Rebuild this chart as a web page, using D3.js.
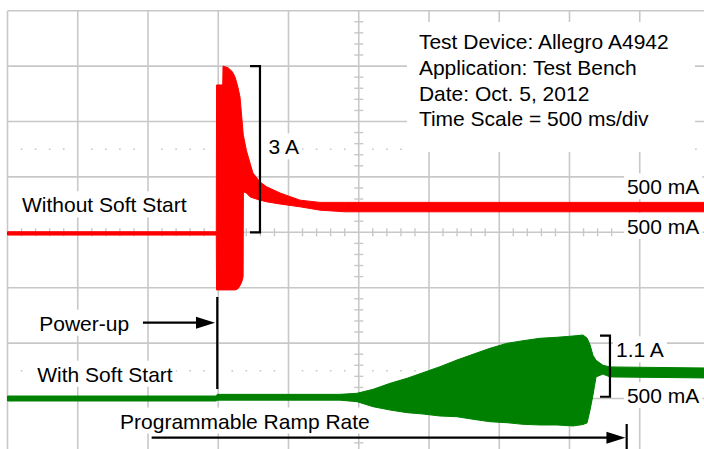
<!DOCTYPE html>
<html lang="en">
<head>
<meta charset="UTF-8">
<title>Soft start comparison</title>
<script src="https://cdn.jsdelivr.net/npm/d3@7"></script>
<style>
  body { margin: 0; background: #fff; }
  svg { display: block; font-family: "Liberation Sans", Arial, sans-serif; }
</style>
</head>
<body>
<svg width="704" height="449"></svg>
<script>
// scope screen: 10 div across at 500 ms/div, 8 div high at 1 A/div
var timeDomain = [0, 5000];
var divDomain = [-4, 4];
var redOffset = 0;     // div
var greenOffset = -3;  // div

// without soft start (red) - envelope of the current, A
var redTime = [0, 1486, 1488, 1532, 1534, 1570, 1600, 1620, 1640, 1655, 1667, 1677, 1679, 1700, 1726, 1747, 1797, 1845, 1940, 2082, 2224, 2400, 5000];
var redHigh = [0.01, 0.01, 2.66, 2.66, 3.00, 2.97, 2.90, 2.80, 2.62, 2.44, 2.09, 1.79, 1.75, 1.48, 1.25, 1.07, 0.91, 0.82, 0.71, 0.58, 0.54, 0.54, 0.54];
var redLow  = [-0.05, -0.05, -1.04, -1.04, -1.04, -1.04, -1.04, -1.04, -1.02, -0.96, -0.90, -0.80, 0.73, 0.71, 0.64, 0.62, 0.58, 0.55, 0.51, 0.46, 0.40, 0.37, 0.37];

// with soft start (green)
var greenTime = [0, 1488, 1492, 2367, 2488, 2602, 2723, 2844, 2957, 3078, 3199, 3313, 3434, 3555, 3669, 3790, 3911, 4025, 4096, 4125, 4146, 4167, 4189, 4238, 4288, 5000];
var greenHigh = [0.045, 0.045, 0.075, 0.075, 0.094, 0.166, 0.274, 0.365, 0.466, 0.574, 0.695, 0.798, 0.906, 0.996, 1.043, 1.087, 1.105, 1.128, 1.146, 1.09, 0.97, 0.78, 0.69, 0.60, 0.57, 0.55];
var greenLow  = [-0.045, -0.045, -0.03, -0.03, -0.058, -0.148, -0.208, -0.256, -0.28, -0.316, -0.329, -0.375, -0.419, -0.437, -0.466, -0.478, -0.478, -0.496, -0.47, -0.44, -0.21, 0.06, 0.39, 0.44, 0.39, 0.37];

var infoLines = ["Test Device: Allegro A4942", "Application: Test Bench", "Date: Oct. 5, 2012", "Time Scale = 500 ms/div"];

var svg = d3.select("svg");
var x = d3.scaleLinear().domain(timeDomain).range([7.5, 710]);
var y = d3.scaleLinear().domain(divDomain).range([453.9, 10.7]);

var gridColor = "#c8c8c8";
var grid = svg.append("g");

// major grid
grid.selectAll(".vx").data(d3.range(0, 5001, 500)).enter().append("line")
    .attr("x1", d => x(d)).attr("x2", d => x(d))
    .attr("y1", y(4)).attr("y2", y(-4))
    .attr("stroke", gridColor).attr("stroke-width", 1.6);
grid.selectAll(".hy").data(d3.range(-4, 5, 1)).enter().append("line")
    .attr("x1", x(0)).attr("x2", x(5000))
    .attr("y1", d => y(d)).attr("y2", d => y(d))
    .attr("stroke", gridColor).attr("stroke-width", 1.6);

// minor ticks on the centre axes
var minorT = d3.range(0, 5001, 100).filter(d => d % 500 !== 0);
var minorD = d3.range(-20, 21, 1).filter(d => d % 5 !== 0).map(d => d / 5);
grid.selectAll(".tx").data(minorT).enter().append("line")
    .attr("x1", d => x(d)).attr("x2", d => x(d))
    .attr("y1", y(0) - 4).attr("y2", y(0) + 4)
    .attr("stroke", gridColor).attr("stroke-width", 1.4);
grid.selectAll(".ty").data(minorD).enter().append("line")
    .attr("x1", x(2500) - 4.5).attr("x2", x(2500) + 4.5)
    .attr("y1", d => y(d)).attr("y2", d => y(d))
    .attr("stroke", gridColor).attr("stroke-width", 1.4);

// dotted reference rows
[1.5, -2.5].forEach(function(lv) {
    grid.selectAll(null).data(minorT).enter().append("rect")
        .attr("x", d => x(d) - 0.8).attr("y", y(lv) - 0.8)
        .attr("width", 1.6).attr("height", 1.6)
        .attr("fill", gridColor);
});

// white backgrounds layer, then traces, then text
var bgLayer = svg.append("g");
var traceLayer = svg.append("g");
var textLayer = svg.append("g").attr("font-size", 21).attr("fill", "#000");
var annLayer = svg.append("g");

// info box
bgLayer.append("rect")
    .attr("x", x(2843)).attr("y", y(3.797))
    .attr("width", x(4893) - x(2843)).attr("height", y(1.449) - y(3.797))
    .attr("fill", "#fff");

function channelArea(times, hi, lo, offset) {
    var pts = times.map((t, i) => ({t: t, hi: hi[i], lo: lo[i]}));
    return {pts: pts, gen: d3.area()
        .x(d => x(d.t))
        .y0(d => y(offset + d.lo))
        .y1(d => y(offset + d.hi))};
}

var red = channelArea(redTime, redHigh, redLow, redOffset);
traceLayer.append("path").datum(red.pts).attr("d", red.gen)
    .attr("fill", "#ff0000").attr("stroke", "#ff0000").attr("stroke-width", 1);
var green = channelArea(greenTime, greenHigh, greenLow, greenOffset);
traceLayer.append("path").datum(green.pts).attr("d", green.gen)
    .attr("fill", "#008000").attr("stroke", "#008000").attr("stroke-width", 1);

// labels: [text, time, div, anchor]
var labels = [
    ["Without Soft Start", 103, 0.361, "start"],
    ["3 A", 1858, 1.408, "start"],
    ["500 mA", 4924, 0.686, "end"],
    ["500 mA", 4924, -0.031, "end"],
    ["Power-up", 226, -1.776, "start"],
    ["With Soft Start", 212, -2.697, "start"],
    ["Programmable Ramp Rate", 801, -3.542, "start"],
    ["1.1 A", 4331, -2.256, "start"],
    ["500 mA", 4924, -3.083, "end"]
];
labels.forEach(function(l) {
    var t = textLayer.append("text")
        .attr("x", x(l[1])).attr("y", y(l[2]))
        .attr("text-anchor", l[3]).text(l[0]);
    var b = t.node().getBBox();
    bgLayer.append("rect")
        .attr("x", b.x - 3).attr("y", b.y - 2)
        .attr("width", b.width + 6).attr("height", b.height + 3)
        .attr("fill", "#fff");
});

var info = textLayer.append("g").attr("font-size", 21);
infoLines.forEach(function(s, i) {
    info.append("text")
        .attr("x", x(2928)).attr("y", y(3.303 - i * 0.462))
        .text(s);
});

// brackets
function bracket(t, tArm, d0, d1) {
    annLayer.append("path")
        .attr("d", "M" + x(tArm) + "," + y(d1) + "H" + x(t) + "V" + y(d0) + "H" + x(tArm))
        .attr("fill", "none").attr("stroke", "#000").attr("stroke-width", 2.2);
}
bracket(1797, 1726, 0.0, 3.0);
bracket(4288, 4217, -2.968, -1.866);

// arrows
function arrow(t0, t1, d) {
    var yy = y(d);
    annLayer.append("line")
        .attr("x1", x(t0)).attr("x2", x(t1) - 10)
        .attr("y1", yy).attr("y2", yy)
        .attr("stroke", "#000").attr("stroke-width", 2.2);
    annLayer.append("path")
        .attr("d", "M" + x(t1) + "," + yy + "L" + (x(t1) - 19) + "," + (yy - 6) + "L" + (x(t1) - 19) + "," + (yy + 6) + "Z")
        .attr("fill", "#000");
}
arrow(964, 1477, -1.632);
arrow(1026, 4398, -3.708);

// power-up marker and ramp end bar
annLayer.append("line")
    .attr("x1", x(1493)).attr("x2", x(1493))
    .attr("y1", y(-1.168)).attr("y2", y(-2.829))
    .attr("stroke", "#000").attr("stroke-width", 2.2);
annLayer.append("line")
    .attr("x1", x(4407)).attr("x2", x(4407))
    .attr("y1", y(-3.46)).attr("y2", y(-4))
    .attr("stroke", "#000").attr("stroke-width", 2.2);
</script>
</body>
</html>
